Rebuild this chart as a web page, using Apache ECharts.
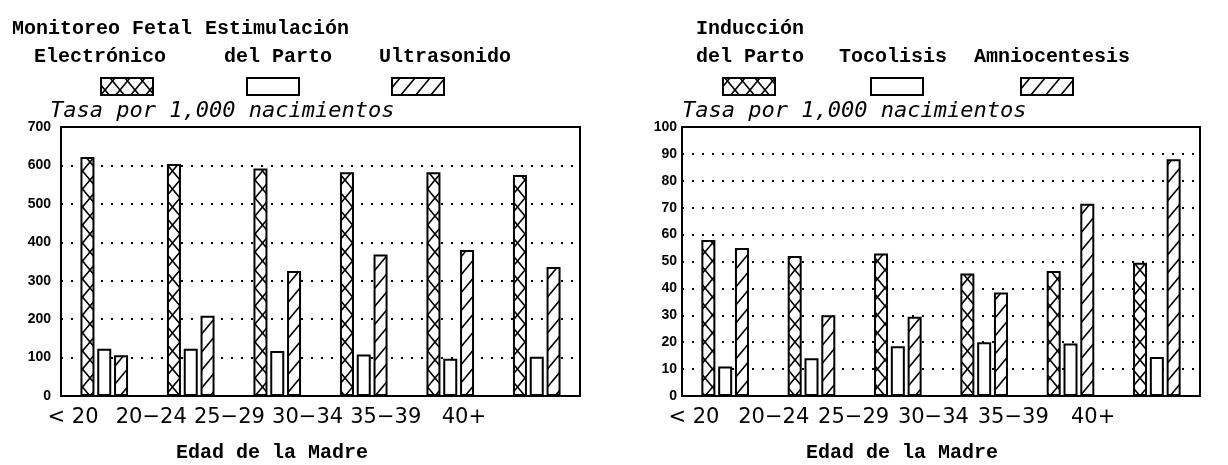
<!DOCTYPE html>
<html>
<head>
<meta charset="utf-8">
<script src="https://cdn.jsdelivr.net/npm/echarts@6/dist/echarts.min.js"></script>
<style>
  html, body { margin: 0; padding: 0; background: #fff; }
  #chart { width: 1228px; height: 465px; }
</style>
</head>
<body>
<div id="chart"></div>
<script>
// categorias (edad de la madre)
const categories = ['< 20', '20−24', '25−29', '30−34', '35−39', '40+'];

// panel izquierdo, tasa por 1,000 nacimientos
const monitoreo = [622, 604, 592, 582, 582, 575];
const estimulacion = [123, 123, 117, 108, 97, 102];
const ultrasonido = [106, 209, 325, 368, 380, 336];

// panel derecho
const induccion = [58, 52, 53, 45.5, 46.5, 49.5];
const tocolisis = [11, 14, 18.5, 20, 19.5, 14.5];
const amniocentesis = [55, 30, 29.5, 38.5, 71.5, 88];

// tramas para las barras
function crossTile() {
  const c = document.createElement('canvas');
  c.width = 15; c.height = 18;
  const ctx = c.getContext('2d');
  ctx.fillStyle = '#fff';
  ctx.fillRect(0, 0, 15, 18);
  ctx.strokeStyle = '#000';
  ctx.lineWidth = 1.6;
  ctx.beginPath();
  ctx.moveTo(0, 0); ctx.lineTo(15, 18);
  ctx.moveTo(15, 0); ctx.lineTo(0, 18);
  ctx.stroke();
  return c;
}
function hatchTile() {
  const c = document.createElement('canvas');
  c.width = 15; c.height = 18;
  const ctx = c.getContext('2d');
  ctx.fillStyle = '#fff';
  ctx.fillRect(0, 0, 15, 18);
  ctx.strokeStyle = '#000';
  ctx.lineWidth = 1.6;
  ctx.beginPath();
  ctx.moveTo(0, 18); ctx.lineTo(15, 0);
  ctx.moveTo(-3, 3.6); ctx.lineTo(3, -3.6);
  ctx.moveTo(12, 21.6); ctx.lineTo(18, 14.4);
  ctx.stroke();
  return c;
}
const cross = { image: crossTile(), repeat: 'repeat' };
const hatch = { image: hatchTile(), repeat: 'repeat' };

function barSeries(name, data, idx, fill) {
  return {
    name: name,
    type: 'bar',
    xAxisIndex: idx,
    yAxisIndex: idx,
    data: data,
    barWidth: 14,
    barGap: '20%',
    itemStyle: { color: fill, borderColor: '#000', borderWidth: 2 },
    silent: true,
  };
}

function valueAxis(idx, max, interval, margin) {
  return {
    type: 'value',
    gridIndex: idx,
    min: 0,
    max: max,
    interval: interval,
    axisLine: { show: true, lineStyle: { color: '#000', width: 2 } },
    axisTick: { show: false },
    axisLabel: {
      color: '#000',
      fontFamily: 'Liberation Sans',
      fontWeight: 'bold',
      fontSize: 14,
      margin: margin,
    },
    splitLine: {
      show: true,
      lineStyle: { color: '#000', width: 2, type: [2, 8] },
    },
  };
}

function legendText(text, x, y) {
  return {
    type: 'text',
    x: x,
    y: y,
    style: {
      text: text,
      fill: '#000',
      fontFamily: 'Liberation Mono',
      fontSize: 20,
      fontWeight: 'bold',
      align: 'center',
      verticalAlign: 'middle',
    },
  };
}
function swatch(x, fill) {
  return {
    type: 'rect',
    shape: { x: x, y: 78, width: 52, height: 17 },
    style: { fill: fill, stroke: '#000', lineWidth: 2 },
  };
}
function tasa(x) {
  return {
    type: 'text',
    x: x,
    y: 111,
    style: {
      text: 'Tasa por 1,000 nacimientos',
      fill: '#000',
      fontFamily: 'DejaVu Sans Mono',
      fontStyle: 'italic',
      fontSize: 22,
      align: 'left',
      verticalAlign: 'middle',
    },
  };
}

const chart = echarts.init(document.getElementById('chart'), null, { renderer: 'canvas' });
const option = {
  backgroundColor: '#fff',
  animation: false,
  grid: [
    { left: 61, top: 127, width: 519, height: 269, show: true, borderColor: '#000', borderWidth: 2 },
    { left: 682, top: 127, width: 518, height: 269, show: true, borderColor: '#000', borderWidth: 2 },
    // rejillas solo para las etiquetas de edad
    { left: 34, top: 127, width: 469, height: 269 },
    { left: 654, top: 127, width: 479, height: 269 },
  ],
  xAxis: [0, 1, 2, 3].map(function (i) {
    const labels = i >= 2;
    return {
      type: 'category',
      gridIndex: i,
      data: categories,
      axisLine: { show: !labels, lineStyle: { color: '#000', width: 2 } },
      axisTick: { show: false },
      axisLabel: {
        show: labels,
        interval: 0,
        margin: 11,
        color: '#000',
        fontFamily: 'DejaVu Sans',
        fontSize: 21,
      },
    };
  }),
  yAxis: [
    valueAxis(0, 700, 100, 10),
    valueAxis(1, 100, 10, 5),
    { type: 'value', gridIndex: 2, show: false },
    { type: 'value', gridIndex: 3, show: false },
  ],
  series: [
    barSeries('Monitoreo Fetal Electrónico', monitoreo, 0, cross),
    barSeries('Estimulación del Parto', estimulacion, 0, '#fff'),
    barSeries('Ultrasonido', ultrasonido, 0, hatch),
    barSeries('Inducción del Parto', induccion, 1, cross),
    barSeries('Tocolisis', tocolisis, 1, '#fff'),
    barSeries('Amniocentesis', amniocentesis, 1, hatch),
  ],
  graphic: [
    legendText('Monitoreo Fetal', 102, 29),
    legendText('Electrónico', 100, 57),
    legendText('Estimulación', 277, 29),
    legendText('del Parto', 278, 57),
    legendText('Ultrasonido', 445, 57),
    swatch(101, cross),
    swatch(247, '#fff'),
    swatch(392, hatch),
    legendText('Inducción', 750, 29),
    legendText('del Parto', 750, 57),
    legendText('Tocolisis', 893, 57),
    legendText('Amniocentesis', 1052, 57),
    swatch(723, cross),
    swatch(871, '#fff'),
    swatch(1021, hatch),
    tasa(50),
    tasa(682),
    legendText('Edad de la Madre', 272, 453),
    legendText('Edad de la Madre', 902, 453),
  ],
};
chart.setOption(option);
</script>
</body>
</html>
